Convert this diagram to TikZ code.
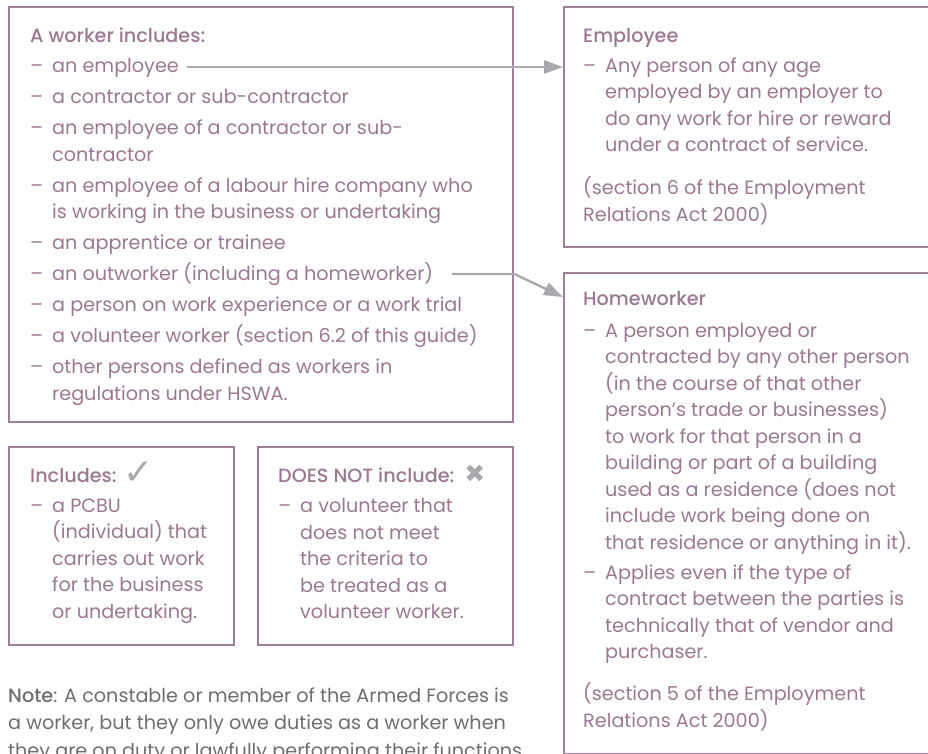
\documentclass[tikz,border=0pt]{standalone}
\usepackage{fontspec}
\setmainfont{Poppins}[BoldFont={Poppins Medium}]
\newfontfamily\symbolfont{DejaVu Sans}
\usetikzlibrary{positioning,arrows.meta}
\definecolor{mauve text}{HTML}{9B7892}
\definecolor{mauve line}{HTML}{9E7F98}
\definecolor{arrow gray}{HTML}{A7A9AC}
\definecolor{note gray}{HTML}{6D6E71}
\newcommand{\itemdash}{\makebox[22pt][l]{–}}
\newcommand{\itemcont}{\hspace*{22pt}}
\tikzset{
	frame box/.style={
		draw=mauve line,
		line width=2.4pt,
		rectangle,
		anchor=north west,
		inner sep=0pt
	},
	box text/.style={
		align=left,
		inner sep=0pt,
		text=mauve text,
		font=\fontsize{19.2}{26.5}\selectfont
	},
	link/.style={
		draw=arrow gray,
		line width=2.4pt,
		-{Triangle[length=19pt,width=13pt]}
	}
}
\begin{document}
\begin{tikzpicture}[x=1pt,y=-1pt]
	\useasboundingbox (0,0) rectangle (928,754);
	\clip (0,0) rectangle (928,754);
	% frames
	\node[frame box, minimum width=504pt, minimum height=415pt] (worker) at (8,6) {};
	\node[frame box, minimum width=380pt, minimum height=240pt] (employee) at (563,6) {};
	\node[frame box, minimum width=380pt, minimum height=481pt] (homeworker) at (563,272) {};
	\node[frame box, minimum width=225pt, minimum height=198pt] (includes) at (8,446) {};
	\node[frame box, minimum width=255pt, minimum height=198pt] (excludes) at (257,446) {};
	% texts
	\node[box text, below right=22pt and 22pt of worker.north west] (worker list) {%
		\textbf{A worker includes:}\\[3.5pt]
		\itemdash an employee\\[4.5pt]
		\itemdash a contractor or sub-contractor\\[4.5pt]
		\itemdash an employee of a contractor or sub-\\
		\itemcont contractor\\[4.5pt]
		\itemdash an employee of a labour hire company who\\
		\itemcont is working in the business or undertaking\\[4.5pt]
		\itemdash an apprentice or trainee\\[4.5pt]
		\itemdash an outworker (including a homeworker)\\[4.5pt]
		\itemdash a person on work experience or a work trial\\[4.5pt]
		\itemdash a volunteer worker (section 6.2 of this guide)\\[4.5pt]
		\itemdash other persons defined as workers in\\
		\itemcont regulations under HSWA.};
	\node[box text, below right=22pt and 20pt of employee.north west] (employee text) {%
		\textbf{Employee}\\[3.5pt]
		\itemdash Any person of any age\\
		\itemcont employed by an employer to\\
		\itemcont do any work for hire or reward\\
		\itemcont under a contract of service.\\[16.5pt]
		(section 6 of the Employment\\
		Relations Act 2000)};
	\node[box text, below right=19pt and 20pt of homeworker.north west] (homeworker text) {%
		\textbf{Homeworker}\\[5.5pt]
		\itemdash A person employed or\\
		\itemcont contracted by any other person\\
		\itemcont (in the course of that other\\
		\itemcont person’s trade or businesses)\\
		\itemcont to work for that person in a\\
		\itemcont building or part of a building\\
		\itemcont used as a residence (does not\\
		\itemcont include work being done on\\
		\itemcont that residence or anything in it).\\[3.5pt]
		\itemdash Applies even if the type of\\
		\itemcont contract between the parties is\\
		\itemcont technically that of vendor and\\
		\itemcont purchaser.\\[15.5pt]
		(section 5 of the Employment\\
		Relations Act 2000)};
	\node[box text, below right=22pt and 22pt of includes.north west] (includes text) {%
		\textbf{Includes:} \smash{\raisebox{-2pt}{\color{arrow gray}\symbolfont\fontsize{36}{36}\selectfont ✓}}\\[3.5pt]
		\itemdash a PCBU\\
		\itemcont (individual) that\\
		\itemcont carries out work\\
		\itemcont for the business\\
		\itemcont or undertaking.};
	\node[box text, below right=22pt and 21pt of excludes.north west] (excludes text) {%
		\textbf{DOES NOT include:}\hspace{10pt}\smash{{\color{arrow gray}\symbolfont\fontsize{25}{25}\selectfont ✖}}\\[3.5pt]
		\itemdash a volunteer that\\
		\itemcont does not meet\\
		\itemcont the criteria to\\
		\itemcont be treated as a\\
		\itemcont volunteer worker.};
	\node[box text, text=note gray, font=\fontsize{19.2}{27.5}\selectfont, below right=41pt and 0pt of includes.south west] (note) {%
		\textbf{Note}: A constable or member of the Armed Forces is\\
		a worker, but they only owe duties as a worker when\\
		they are on duty or lawfully performing their functions.};
	% connectors
	\coordinate (employee tail) at (187,67);
	\coordinate (outworker tail) at (452,274);
	\draw[link] (employee tail) -- (employee.west |- employee tail);
	\draw[link] (outworker tail) -- (worker.east |- outworker tail) -- ([yshift=-25pt]homeworker.north west);
\end{tikzpicture}
\end{document}
